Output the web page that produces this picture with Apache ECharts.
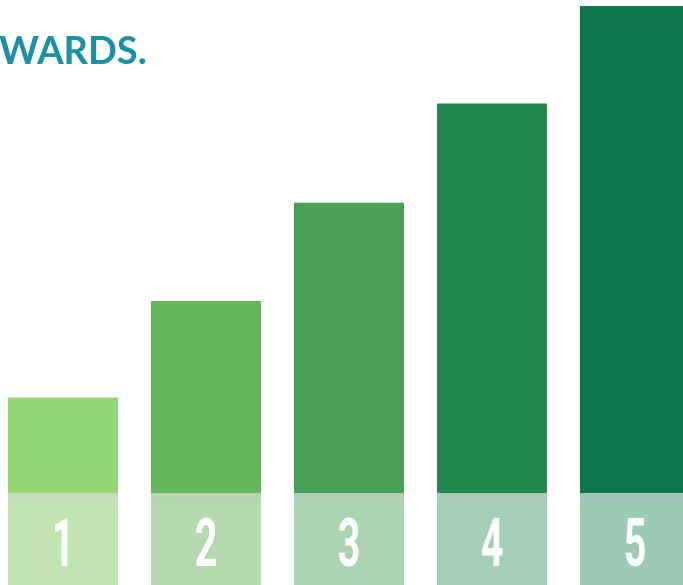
<!DOCTYPE html>
<html>
<head>
<meta charset="utf-8">
<script src="https://cdn.jsdelivr.net/npm/echarts@6/dist/echarts.min.js"></script>
<style>
html,body{margin:0;padding:0;background:#fff;}
#chart{width:683px;height:585px;}
</style>
</head>
<body>
<div id="chart"></div>
<script>
const titleText = 'WARDS.';
const categories = ['1', '2', '3', '4', '5'];
const values = [0.98, 1.97, 2.98, 4.0, 5.0];
const yMax = 5.0;

const barColors = ['#93d878', '#63b65a', '#47a054', '#22894e', '#0f774d'];
const reflectTop = ['#c9d9c3', '#bcd2b7', '#b4ccb7', '#adc7bb', '#a6c3ba'];
const reflectColors = ['#c1e4b3', '#b4dbad', '#abd5b1', '#a4cfb6', '#9ccab7'];

const chart = echarts.init(document.getElementById('chart'), null, {renderer: 'canvas'});

const gridTop = 6, gridBottomY = 493, H = 585;
const mainH = gridBottomY - gridTop;
const reflH = H - gridBottomY;

chart.setOption({
  animation: false,
  backgroundColor: '#ffffff',
  title: {
    text: titleText,
    left: -1,
    top: 33,
    padding: 0,
    textStyle: {
      fontFamily: 'Lato',
      fontWeight: 'bold',
      fontSize: 38,
      color: '#1a8fa6'
    }
  },
  grid: [
    {left: -8.5, width: 715, top: gridTop, height: mainH, outerBoundsMode: 'none'},
    {left: -8.5, width: 715, top: gridBottomY, height: reflH, outerBoundsMode: 'none'}
  ],
  xAxis: [
    {type: 'category', data: categories, gridIndex: 0, show: false},
    {type: 'category', data: categories, gridIndex: 1, show: false}
  ],
  yAxis: [
    {type: 'value', gridIndex: 0, min: 0, max: yMax, show: false},
    {type: 'value', gridIndex: 1, min: 0, max: yMax * reflH / mainH, inverse: true, show: false}
  ],
  series: [
    {
      type: 'bar',
      xAxisIndex: 0, yAxisIndex: 0,
      barWidth: 110,
      data: values.map((v, i) => ({value: v, itemStyle: {color: barColors[i]}}))
    },
    {
      type: 'bar',
      xAxisIndex: 1, yAxisIndex: 1,
      barWidth: 110,
      clip: true,
      data: values.map((v, i) => ({
        value: v,
        itemStyle: {
          color: new echarts.graphic.LinearGradient(0, gridBottomY, 0, H, [
            {offset: 0, color: reflectTop[i]},
            {offset: 0.12, color: reflectColors[i]},
            {offset: 1, color: reflectColors[i]}
          ], true)
        }
      }))
    },
    {
      type: 'custom',
      xAxisIndex: 1, yAxisIndex: 1,
      data: categories.map((c, i) => [i, 0]),
      z: 5,
      renderItem: function (params, api) {
        const p = api.coord([api.value(0), 0]);
        return {
          type: 'text',
          x: p[0],
          y: p[1] + 56,
          scaleX: 0.6,
          style: {
            text: categories[params.dataIndex],
            fontFamily: 'Roboto',
            fontWeight: 'bold',
            fontSize: 66,
            fill: '#ffffff',
            align: 'center',
            verticalAlign: 'middle',
            shadowColor: 'rgba(0,60,30,0.28)',
            shadowBlur: 8,
            shadowOffsetX: 3,
            shadowOffsetY: 2
          }
        };
      }
    }
  ]
});
</script>
</body>
</html>
